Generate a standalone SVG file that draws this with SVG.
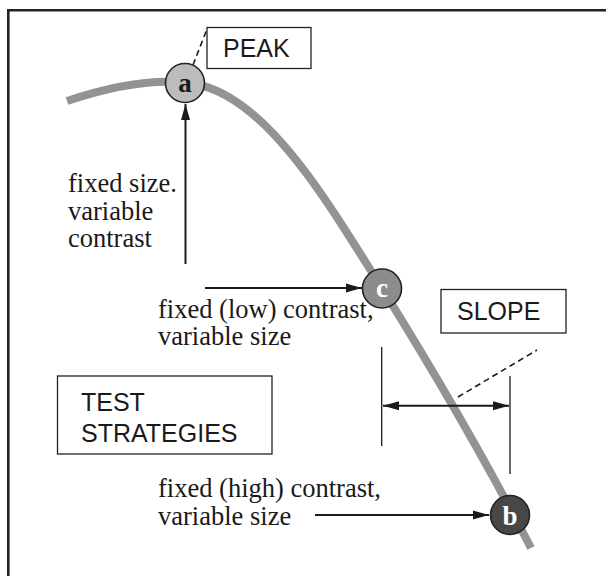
<svg xmlns="http://www.w3.org/2000/svg" width="606" height="576" viewBox="0 0 606 576">
<style>
.frame{fill:none;stroke:#222;stroke-width:2.6}
.curve{fill:none;stroke:#939393;stroke-width:8}
.box{fill:#fff;stroke:#222;stroke-width:1.3}
.lbl{font-family:"Liberation Sans",Arial,sans-serif;font-size:25px;fill:#1a1a1a}
.ser{font-family:"Liberation Serif","Times New Roman",serif;font-size:26.5px;fill:#1a1a1a}
.ln{fill:none;stroke:#1a1a1a;stroke-width:2}
.thin{fill:none;stroke:#1a1a1a;stroke-width:1.3}
.dash{fill:none;stroke:#1a1a1a;stroke-width:1.6;stroke-dasharray:6,4}
.node{stroke:#222;stroke-width:1.6}
.nl{font-family:"Liberation Serif","Times New Roman",serif;font-size:27px;font-weight:bold;text-anchor:middle}
</style>
<defs>
<marker id="ah2" viewBox="0 0 16 10" refX="16" refY="5" markerWidth="16" markerHeight="10" orient="auto-start-reverse" markerUnits="userSpaceOnUse">
<path d="M0,0.5 L16,5 L0,9.5 z" fill="#1a1a1a"/>
</marker>
</defs>
<rect width="606" height="576" fill="#fff"/>
<path class="frame" d="M8.3,576 V10.3 H606"/>
<path id="curve" class="curve" d="M67,101 C115,85 160,78 195,84 C250,94 300,160 340,222 C400,315 470,430 531,548"/>
<g id="connectors">
<line class="ln" x1="185.5" y1="264" x2="185.5" y2="104" marker-end="url(#ah2)"/>
<line class="ln" x1="205" y1="288" x2="362" y2="288" marker-end="url(#ah2)"/>
<line class="ln" x1="315" y1="515" x2="489" y2="515" marker-end="url(#ah2)"/>
<line class="thin" x1="381.7" y1="347" x2="381.7" y2="446"/>
<line class="thin" x1="510" y1="376" x2="510" y2="474"/>
<line class="ln" x1="383" y1="405.7" x2="509" y2="405.7" marker-start="url(#ah2)" marker-end="url(#ah2)"/>
<line class="dash" x1="458" y1="397" x2="537" y2="350"/>
<line class="dash" x1="193" y1="65" x2="207" y2="29"/>
</g>
<g id="peak">
<rect class="box" x="207" y="27.5" width="104" height="41"/>
<text class="lbl" x="223" y="57">PEAK</text>
</g>
<g id="slope">
<rect class="box" x="441" y="289.5" width="125" height="43.5"/>
<text class="lbl" x="457" y="320">SLOPE</text>
</g>
<g id="test-strategies">
<rect class="box" x="57.5" y="376" width="214.5" height="78"/>
<text class="lbl" x="81" y="411">TEST</text>
<text class="lbl" x="81" y="442">STRATEGIES</text>
</g>
<g id="label-a-text">
<text class="ser" x="68" y="192">fixed size.</text>
<text class="ser" x="68" y="220">variable</text>
<text class="ser" x="68" y="247">contrast</text>
</g>
<g id="label-c-text">
<text class="ser" x="158" y="318">fixed (low) contrast,</text>
<text class="ser" x="158" y="345">variable size</text>
</g>
<g id="label-b-text">
<text class="ser" x="158" y="497">fixed (high) contrast,</text>
<text class="ser" x="158" y="525">variable size</text>
</g>
<g id="node-a">
<circle class="node" cx="185" cy="83" r="19.5" fill="#bcbcbc"/>
<text class="nl" x="185" y="91.5" fill="#1a1a1a">a</text>
</g>
<g id="node-c">
<circle class="node" cx="382" cy="288.5" r="19.5" fill="#8c8c8c"/>
<text class="nl" x="382" y="297" fill="#fff">c</text>
</g>
<g id="node-b">
<circle class="node" cx="510" cy="515" r="19.5" fill="#474747"/>
<text class="nl" x="510" y="524.5" fill="#fff">b</text>
</g>
</svg>
